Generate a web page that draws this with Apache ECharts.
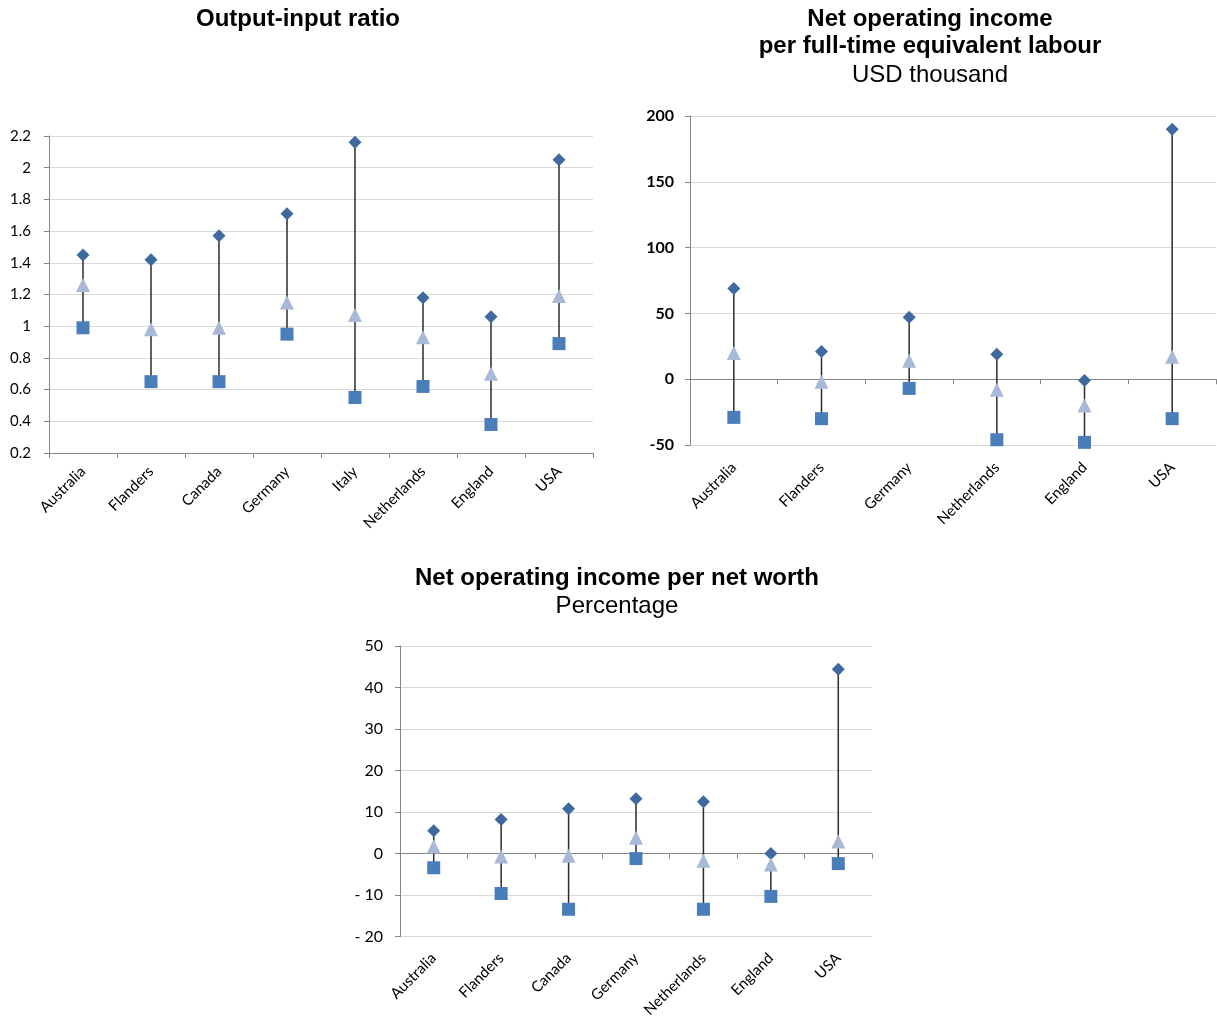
<!DOCTYPE html>
<html><head><meta charset="utf-8">
<script src="https://cdn.jsdelivr.net/npm/echarts@6/dist/echarts.min.js"></script>
<style>html,body{margin:0;padding:0;background:#fff}#c{width:1217px;height:1020px}</style>
</head><body><div id="c"></div>
<script>
// Chart 1: Output-input ratio
var cats1 = ['Australia','Flanders','Canada','Germany','Italy','Netherlands','England','USA'];
var high1 = [1.45, 1.42, 1.57, 1.71, 2.16, 1.18, 1.06, 2.05];
var mid1  = [1.26, 0.98, 0.99, 1.15, 1.07, 0.93, 0.70, 1.19];
var low1  = [0.99, 0.65, 0.65, 0.95, 0.55, 0.62, 0.38, 0.89];
// Chart 2: Net operating income per FTE labour (USD thousand)
var cats2 = ['Australia','Flanders','Germany','Netherlands','England','USA'];
var high2 = [69, 21, 47, 19, -1, 190];
var mid2  = [20, -2, 14, -8, -20, 17];
var low2  = [-29, -30, -7, -46, -48, -30];
// Chart 3: Net operating income per net worth (%)
var cats3 = ['Australia','Flanders','Canada','Germany','Netherlands','England','USA'];
var high3 = [5.5, 8.2, 10.8, 13.2, 12.5, 0.0, 44.4];
var mid3  = [1.7, -0.7, -0.5, 3.8, -1.7, -2.6, 2.9];
var low3  = [-3.4, -9.6, -13.4, -1.2, -13.4, -10.3, -2.4];

var C_HI = '#3e6aa0', C_MID = '#a8b8d7', C_LO = '#4a7ebb';
var AX = '#868686', GR = '#d9d9d9';
var LABF = 'Lato, "Open Sans", sans-serif';
var TF = 'Liberation Sans, Arial, sans-serif';

var chart = echarts.init(document.getElementById('c'));

function xi(gi) { return gi === 0 ? 0 : (gi === 1 ? 1 : 3); }
function hlSeries(gi, cats, hi, lo) {
  return {
    type: 'custom', xAxisIndex: xi(gi), yAxisIndex: gi,
    data: cats.map(function (c, i) { return [i, Math.max(hi[i], lo[i]), Math.min(hi[i], lo[i])]; }),
    encode: { x: 0, y: [1, 2] }, silent: true, z: 1,
    renderItem: function (params, api) {
      var x = api.value(0);
      var a = api.coord([x, api.value(1)]);
      var b = api.coord([x, api.value(2)]);
      return { type: 'line', shape: { x1: a[0], y1: a[1], x2: b[0], y2: b[1] },
        style: { stroke: '#2b2b2b', lineWidth: 1.5 } };
    }
  };
}
function pts(gi, name, vals, sym, size, color) {
  return {
    type: 'line', name: name, xAxisIndex: xi(gi), yAxisIndex: gi,
    data: vals, symbol: sym, symbolSize: size, showSymbol: true,
    lineStyle: { opacity: 0 }, itemStyle: { color: color }, z: 3, silent: true
  };
}
function catAxis(gi, cats, showLabels, onZeroLine, margin) {
  return {
    type: 'category', gridIndex: gi, data: cats, position: 'bottom',
    axisLine: { show: !!onZeroLine, onZero: onZeroLine === 'zero', lineStyle: { color: AX, width: 1 } },
    axisTick: { show: !!onZeroLine, length: 5, lineStyle: { color: AX } },
    axisLabel: { show: showLabels, rotate: 45, margin: margin || 12, color: '#000', fontSize: 15, fontFamily: LABF, interval: 0 },
    splitLine: { show: false }
  };
}
function ttl(text, x, cy, bold) {
  return { text: text, left: x, textAlign: 'center', top: cy - 13.5, padding: 0,
    textStyle: { fontFamily: TF, fontSize: 24, fontWeight: bold ? 'bold' : 'normal', color: '#000', lineHeight: 27 } };
}

var option = {
  animation: false,
  title: [
    ttl('Output-input ratio', 298, 19, true),
    ttl('Net operating income\nper full-time equivalent labour', 930, 19, true),
    ttl('USD thousand', 930, 75, false),
    ttl('Net operating income per net worth', 617, 578, true),
    ttl('Percentage', 617, 606, false)
  ],
  grid: [
    { left: 49, top: 136, width: 544, height: 317 },
    { left: 690, top: 116, width: 526, height: 329 },
    { left: 400, top: 646, width: 472, height: 292 }
  ],
  xAxis: [
    catAxis(0, cats1, true, 'bottom', 16),
    catAxis(1, cats2, true, false, 20),
    catAxis(1, cats2, false, 'zero'),
    catAxis(2, cats3, true, false, 19),
    catAxis(2, cats3, false, 'zero')
  ],
  yAxis: [
    { type: 'value', gridIndex: 0, min: 0.2, max: 2.2, interval: 0.2,
      axisLine: { show: true, lineStyle: { color: AX } }, axisTick: { show: true, length: 5, lineStyle: { color: AX } },
      splitLine: { lineStyle: { color: GR, width: 1 } },
      axisLabel: { color: '#000', fontSize: 15, fontFamily: LABF, margin: 18,
        formatter: function (v) { return String(+v.toFixed(1)); } } },
    { type: 'value', gridIndex: 1, min: -50, max: 200, interval: 50,
      axisLine: { show: true, lineStyle: { color: AX } }, axisTick: { show: true, length: 5, lineStyle: { color: AX } },
      splitLine: { lineStyle: { color: GR, width: 1 } },
      axisLabel: { color: '#000', fontSize: 16, fontWeight: 'bold', fontFamily: LABF, margin: 16 } },
    { type: 'value', gridIndex: 2, min: -20, max: 50, interval: 10,
      axisLine: { show: true, lineStyle: { color: AX } }, axisTick: { show: true, length: 5, lineStyle: { color: AX } },
      splitLine: { lineStyle: { color: GR, width: 1 } },
      axisLabel: { color: '#000', fontSize: 16, fontFamily: LABF, margin: 17,
        formatter: function (v) { return v < 0 ? '- ' + (-v) : String(v); } } }
  ],
  series: [
    hlSeries(0, cats1, high1, low1),
    pts(0, 'High', high1, 'diamond', 13, C_HI),
    pts(0, 'Average', mid1, 'triangle', 14, C_MID),
    pts(0, 'Low', low1, 'rect', 13, C_LO),
    hlSeries(1, cats2, high2, low2),
    pts(1, 'High', high2, 'diamond', 13, C_HI),
    pts(1, 'Average', mid2, 'triangle', 14, C_MID),
    pts(1, 'Low', low2, 'rect', 13, C_LO),
    hlSeries(2, cats3, high3, low3),
    pts(2, 'High', high3, 'diamond', 13, C_HI),
    pts(2, 'Average', mid3, 'triangle', 14, C_MID),
    pts(2, 'Low', low3, 'rect', 13, C_LO)
  ]
};
chart.setOption(option);
</script></body></html>
